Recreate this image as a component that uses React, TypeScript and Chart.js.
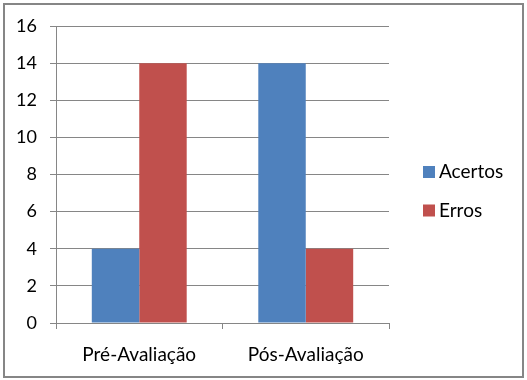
import React, { useEffect, useRef } from "react";
import { Chart, registerables } from "chart.js";

Chart.register(...registerables);

const categories = ["Pré-Avaliação", "Pós-Avaliação"];
const seriesNames = ["Acertos", "Erros"];
const acertos = [4, 14];
const erros = [14, 4];
const seriesColors = ["#4F81BD", "#C0504D"];
const yTicks = [0, 2, 4, 6, 8, 10, 12, 14, 16];

const FONT = "Lato, 'Open Sans', sans-serif";
const GRID = "#868686";

const framePlugin = {
  id: "frame",
  afterDraw(chart: any) {
    const ctx = chart.ctx;
    ctx.save();
    ctx.strokeStyle = GRID;
    ctx.lineWidth = 2;
    ctx.strokeRect(4, 4, 519, 373);
    // legend
    const items = seriesNames.map((n, i) => ({ n, c: seriesColors[i] }));
    ctx.font = `19px ${FONT}`;
    ctx.textBaseline = "middle";
    ctx.textAlign = "left";
    items.forEach((it, i) => {
      const cy = 172 + i * 38.5;
      ctx.fillStyle = it.c;
      ctx.fillRect(423, cy - 6, 12, 12);
      ctx.fillStyle = "#000";
      ctx.fillText(it.n, 439, cy);
    });
    ctx.restore();
  },
};

export default function App() {
  const ref = useRef<HTMLCanvasElement | null>(null);
  useEffect(() => {
    if (!ref.current) return;
    const chart = new Chart(ref.current, {
      type: "bar",
      data: {
        labels: categories,
        datasets: [
          { label: seriesNames[0], data: acertos, backgroundColor: seriesColors[0], borderWidth: 0 },
          { label: seriesNames[1], data: erros, backgroundColor: seriesColors[1], borderWidth: 0 },
        ],
      },
      options: {
        responsive: false,
        animation: false,
        devicePixelRatio: 1,
        layout: { padding: { left: 0, right: 138, top: 26, bottom: 0 } },
        datasets: { bar: { categoryPercentage: 0.57, barPercentage: 1 } },
        plugins: { legend: { display: false }, tooltip: { enabled: false } },
        scales: {
          x: {
            grid: {
              display: true,
              drawOnChartArea: false,
              drawTicks: true,
              tickLength: 6,
              color: GRID,
              offset: true,
            },
            border: { color: GRID, width: 1 },
            ticks: { color: "#000", font: { family: FONT, size: 19 }, padding: 14, maxRotation: 0 },
            afterFit: (s: any) => {
              s.height = 57;
            },
          },
          y: {
            min: 0,
            max: 16,
            afterBuildTicks: (s: any) => {
              s.ticks = yTicks.map((v) => ({ value: v }));
            },
            grid: { color: GRID, tickLength: 6, drawTicks: true },
            border: { color: GRID, width: 1 },
            ticks: { color: "#000", font: { family: FONT, size: 18 }, padding: 13 },
            afterFit: (s: any) => {
              s.width = 56;
            },
          },
        },
      },
      plugins: [framePlugin],
    });
    return () => chart.destroy();
  }, []);
  return (
    <div style={{ position: "fixed", left: 0, top: 0, width: 527, height: 380, background: "#fff" }}>
      <canvas ref={ref} width={527} height={380} style={{ display: "block" }} />
    </div>
  );
}
